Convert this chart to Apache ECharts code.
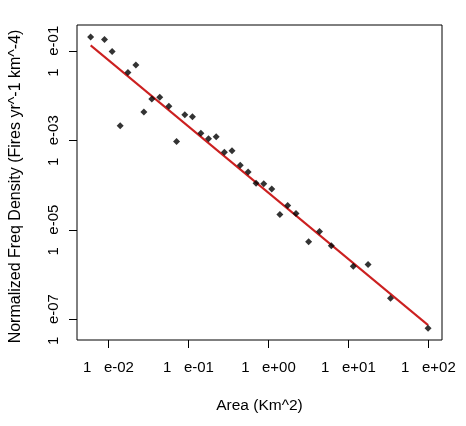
<!DOCTYPE html>
<html>
<head>
<meta charset="utf-8">
<script src="https://cdn.jsdelivr.net/npm/echarts@6/dist/echarts.min.js"></script>
<style>html,body{margin:0;padding:0;background:#fff}#c{width:466px;height:426px}</style>
</head>
<body>
<div id="c"></div>
<script>
// Observed points (Area km^2, normalized frequency density)
var areaValues = [0.00598, 0.00891, 0.0111, 0.0140, 0.0175, 0.0220, 0.0277, 0.0348, 0.0437, 0.0569, 0.0710, 0.0900, 0.112, 0.143, 0.178, 0.222, 0.281, 0.350, 0.444, 0.557, 0.700, 0.873, 1.10, 1.39, 1.74, 2.21, 3.18, 4.35, 6.11, 11.5, 17.6, 33.6, 99.1];
var densityValues = [0.209, 0.182, 0.0980, 0.00216, 0.0332, 0.0493, 0.00438, 0.00855, 0.00933, 0.00587, 0.000951, 0.00381, 0.00344, 0.00146, 0.00110, 0.00122, 0.000548, 0.000596, 0.000281, 0.000199, 0.000111, 0.000109, 8.26e-5, 2.24e-5, 3.56e-5, 2.36e-5, 5.47e-6, 9.33e-6, 4.45e-6, 1.56e-6, 1.71e-6, 3.00e-7, 6.40e-8];
// Fitted power-law line endpoints
var fitArea = [0.00598, 99.1];
var fitDensity = [0.135, 7.5e-8];
// Axis ticks
var xTickValues = [0.01, 0.1, 1, 10, 100];
var xTickLabels = ['1   e-02', '1   e-01', '1   e+00', '1   e+01', '1   e+02'];
var yTickValues = [1e-7, 1e-5, 1e-3, 1e-1];
var yTickLabels = ['1   e-07', '1   e-05', '1   e-03', '1   e-01'];
var xTitle = 'Area (Km^2)';
var yTitle = 'Normalized Freq Density (Fires yr^-1 km^-4)';

function lookup(vals, labels, v) {
  for (var i = 0; i < vals.length; i++) {
    if (Math.abs(Math.log10(v) - Math.log10(vals[i])) < 1e-6) return labels[i];
  }
  return '';
}
var pts = areaValues.map(function (a, i) { return [a, densityValues[i]]; });
var fit = fitArea.map(function (a, i) { return [a, fitDensity[i]]; });
var FONT = 'Liberation Sans, Arial, sans-serif';

var chart = echarts.init(document.getElementById('c'), null, {renderer: 'canvas'});
chart.setOption({
  animation: false,
  backgroundColor: '#fff',
  grid: {left: 73, top: 25, right: 24, bottom: 86, show: true, borderColor: '#000', borderWidth: 1, containLabel: false},
  xAxis: {
    type: 'log', logBase: 10,
    min: Math.pow(10, -2.394), max: Math.pow(10, 2.170),
    axisLine: {show: false},
    splitLine: {show: false},
    axisTick: {show: true, length: 8, lineStyle: {color: '#000', width: 1}, customValues: xTickValues},
    axisLabel: {color: '#000', fontSize: 15, fontFamily: FONT, margin: 20, customValues: xTickValues,
      formatter: function (v) { return lookup(xTickValues, xTickLabels, v); }},
    name: xTitle, nameLocation: 'middle', nameGap: 58,
    nameTextStyle: {color: '#000', fontSize: 15.5, fontFamily: FONT}
  },
  yAxis: {
    type: 'log', logBase: 10,
    min: Math.pow(10, -7.458), max: Math.pow(10, -0.414),
    axisLine: {show: false},
    splitLine: {show: false},
    axisTick: {show: true, length: 8, lineStyle: {color: '#000', width: 1}, customValues: yTickValues},
    axisLabel: {color: '#000', fontSize: 15, fontFamily: FONT, margin: 16, rotate: 90, customValues: yTickValues,
      formatter: function (v) { return lookup(yTickValues, yTickLabels, v); }},
    name: yTitle, nameLocation: 'middle', nameGap: 53,
    nameTextStyle: {color: '#000', fontSize: 16, fontFamily: FONT, padding: [0, 8, 0, 0]}
  },
  series: [
    {type: 'scatter', data: pts, symbol: 'diamond', symbolSize: 7, itemStyle: {color: '#000'}, z: 3},
    {type: 'line', data: fit, symbol: 'none', lineStyle: {color: '#CC2020', width: 2}, z: 2}
  ]
});
</script>
</body>
</html>
